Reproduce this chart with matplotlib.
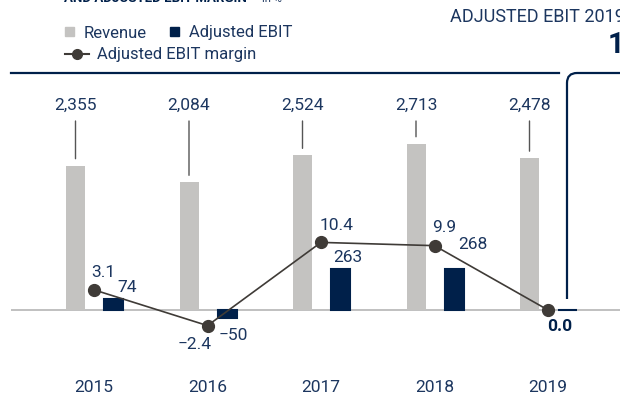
import numpy as np
import matplotlib
matplotlib.use("Agg")
import matplotlib.pyplot as plt
from matplotlib.path import Path
from matplotlib.patches import PathPatch
from matplotlib.transforms import blended_transform_factory

years = ["2015", "2016", "2017", "2018", "2019"]
revenue = [2355, 2084, 2524, 2713, 2478]
ebit = [74, -50, 263, 268, 1]
margin = [3.1, -2.4, 10.4, 9.9, 0.0]

rev_labels = ["2,355", "2,084", "2,524", "2,713", "2,478"]
ebit_labels = ["74", "\u221250", "263", "268", ""]
margin_labels = ["3.1", "\u22122.4", "10.4", "9.9", "0.0"]

# label offsets in px (dx, dy) relative to point / bar end
ebit_off = [(14, 12), (6, -17), (7, 13), (19, 25), (0, 0)]
margin_off = [(9, 18), (-13, -18), (15, 18), (10, 19), (12, -16)]

GRAY = "#c4c3c1"
NAVY = "#00204a"
LINE = "#3f3b37"
TXT = "#1c365f"
ZERO = "#b5b5b5"

plt.rcParams["font.family"] = ["Roboto", "DejaVu Sans"]

W, H = 620, 410
fig = plt.figure(figsize=(W / 100, H / 100), dpi=100)

# axes spanning px 11..620 horizontally, 74..410 from top vertically
ax_top, base = 74, 311
ax = fig.add_axes([11 / W, 0, 609 / W, (H - ax_top) / H])
x = np.arange(len(years))
ax.set_xlim((11 - 94) / 113.5, (620 - 94) / 113.5)


def set_scale(a, ppu):
    below = H - base
    above = base - ax_top
    a.set_ylim(-below / ppu, above / ppu)


ax_rev = ax.twinx()
ax_m = ax.twinx()
set_scale(ax, 0.154)
set_scale(ax_rev, 0.0613)
set_scale(ax_m, 6.5)
for a in (ax, ax_rev, ax_m):
    a.axis("off")

w = 19 / 113.5
ax_rev.bar(x - 18.5 / 113.5, revenue, width=w, color=GRAY, zorder=1)
ax.bar(x + 19.5 / 113.5, ebit, width=w, color=NAVY, edgecolor=NAVY,
       linewidth=1.5, zorder=2)
ax.axhline(0, color=ZERO, lw=1.2, zorder=0)
ax_m.plot(x, margin, color=LINE, lw=1.2, marker="o", ms=8.5, zorder=3)

tr_rev = blended_transform_factory(ax_rev.transData, ax_rev.transAxes)
lab_y = 1 - (105 - ax_top) / (H - ax_top)
lead_y = 1 - (122 - ax_top) / (H - ax_top)
for i, v in enumerate(revenue):
    xi = x[i] - 18.5 / 113.5
    ax_rev.text(xi, lab_y, rev_labels[i], transform=tr_rev, ha="center",
                va="center", fontsize=12.5, color=TXT)
    ax_rev.annotate("", xy=(xi, v), xycoords="data", xytext=(xi, lead_y),
                    textcoords=tr_rev,
                    arrowprops=dict(arrowstyle="-", color="#555555", lw=1,
                                    shrinkA=0, shrinkB=5))

for i, v in enumerate(ebit):
    if not ebit_labels[i]:
        continue
    dx, dy = ebit_off[i]
    ax.annotate(ebit_labels[i], (x[i] + 19.5 / 113.5, v),
                xytext=(dx * 0.72, dy * 0.72), textcoords="offset points",
                ha="center", va="center", fontsize=12.5, color=TXT)

for i, v in enumerate(margin):
    dx, dy = margin_off[i]
    bold = i == len(margin) - 1
    ax_m.annotate(margin_labels[i], (x[i], v),
                  xytext=(dx * 0.72, dy * 0.72), textcoords="offset points",
                  ha="center", va="center", fontsize=12.5,
                  color=NAVY if bold else TXT,
                  fontweight="bold" if bold else "normal")


# top rule and right-hand panel frame (figure pixels, origin top-left)
def fp(px, py):
    return (px / W, 1 - py / H)


fig.add_artist(plt.Line2D([11 / W, 559 / W], [1 - 74 / H] * 2,
                          transform=fig.transFigure, color=NAVY, lw=1.6))
r = 10
verts = [fp(567, 300), fp(567, 74 + r), fp(567, 74), fp(567 + r, 74),
         fp(640, 74)]
codes = [Path.MOVETO, Path.LINETO, Path.CURVE3, Path.CURVE3, Path.LINETO]
fig.add_artist(PathPatch(Path(verts, codes), transform=fig.transFigure,
                         fill=False, edgecolor=NAVY, lw=1.6))

# header texts
fig.text(64 / W, 1 - 2.5 / H, "AND ADJUSTED EBIT MARGIN", fontsize=9.5,
         fontweight="bold", color=NAVY, va="baseline")
fig.text(262 / W, 1 - 2.5 / H, "in %", fontsize=8, color=TXT, va="baseline")
fig.text(450 / W, 1 - 17 / H, "ADJUSTED EBIT 2019", fontsize=13,
         color=TXT, va="center")
fig.text(608 / W, 1 - 45 / H, "1", fontsize=21, fontweight="bold",
         color=NAVY, va="center")

# legend
fig.patches.append(plt.Rectangle(fp(65, 37), 9 / W, 9 / H, color=GRAY,
                                 transform=fig.transFigure))
fig.text(84 / W, 1 - 33 / H, "Revenue", fontsize=12, color=TXT, va="center")
fig.patches.append(plt.Rectangle(fp(170, 37), 9 / W, 9 / H, color=NAVY,
                                 transform=fig.transFigure))
fig.text(189 / W, 1 - 33 / H, "Adjusted EBIT", fontsize=12, color=TXT,
         va="center")
fig.add_artist(plt.Line2D([65 / W, 89 / W], [1 - 55 / H] * 2,
                          transform=fig.transFigure, color=LINE, lw=1.5))
fig.add_artist(plt.Line2D([77 / W], [1 - 55 / H], transform=fig.transFigure,
                          color=LINE, marker="o", ms=7))
fig.text(97 / W, 1 - 55 / H, "Adjusted EBIT margin", fontsize=12, color=TXT,
         va="center")

# year labels
tr_x = blended_transform_factory(ax.transData, fig.transFigure)
for i, yr in enumerate(years):
    ax.text(x[i], 1 - 388 / H, yr, transform=tr_x, ha="center",
            va="center", fontsize=12.5, color=TXT)

fig.savefig("out.png", dpi=100)
